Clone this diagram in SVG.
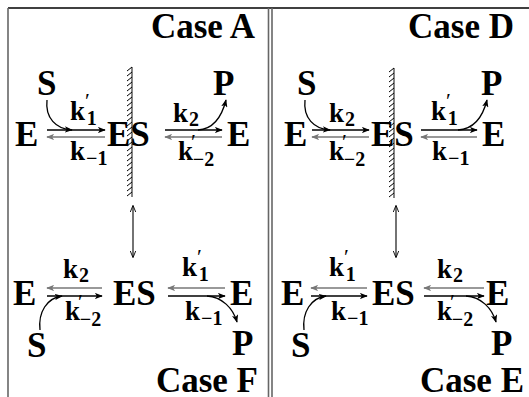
<svg xmlns="http://www.w3.org/2000/svg" xmlns:xlink="http://www.w3.org/1999/xlink" width="529" height="397" viewBox="0 0 529 397" font-family="'Liberation Serif', 'DejaVu Serif', serif">
<style>
text{font-family:"Liberation Serif","Tinos","Times New Roman","DejaVu Serif",serif;font-weight:bold;fill:#000;font-size:27px}
.t{font-size:35px}
.k{font-size:27px}
.s{font-size:20px}
.p{font-size:22px;font-weight:normal}
.fa{stroke:#000;stroke-width:1.3;fill:none;marker-end:url(#ah)}
.ga{stroke:#777;stroke-width:1.4;fill:none;marker-end:url(#ahg)}
.da{stroke:#000;stroke-width:1.1;fill:none;marker-end:url(#oa);marker-start:url(#oa)}
.frame{stroke:#666;stroke-width:1.6;fill:none}
</style>
<defs>
<marker id="ah" viewBox="0 0 10 8" refX="9" refY="4" markerWidth="8" markerHeight="6.4" markerUnits="userSpaceOnUse" orient="auto"><path d="M0,0L10,4L0,8L2.5,4z" fill="#000"/></marker>
<marker id="ahg" viewBox="0 0 10 8" refX="9" refY="4" markerWidth="8" markerHeight="6.4" markerUnits="userSpaceOnUse" orient="auto"><path d="M0,0L10,4L0,8L2.5,4z" fill="#777"/></marker>
<marker id="oa" viewBox="0 0 10 8" refX="9" refY="4" markerWidth="7" markerHeight="5.6" markerUnits="userSpaceOnUse" orient="auto-start-reverse"><path d="M0,0L10,4L0,8" fill="none" stroke="#000" stroke-width="1.3"/></marker>
<g id="wall">
<line x1="0" y1="0" x2="0" y2="130" stroke="#666" stroke-width="1.6"/>
<path d="M-5,4L0,0M-5,9L0,5M-5,14L0,10M-5,19L0,15M-5,24L0,20M-5,29L0,25M-5,34L0,30M-5,39L0,35M-5,44L0,40M-5,49L0,45M-5,54L0,50M-5,59L0,55M-5,64L0,60M-5,69L0,65M-5,74L0,70M-5,79L0,75M-5,84L0,80M-5,89L0,85M-5,94L0,90M-5,99L0,95M-5,104L0,100M-5,109L0,105M-5,114L0,110M-5,119L0,115M-5,124L0,120M-5,129L0,125" stroke="#000" stroke-width="1"/>
</g>
</defs>
<rect width="529" height="397" fill="#fff"/>
<g id="frame">
<line x1="8" y1="8" x2="529" y2="8" stroke="#000" stroke-width="1.6"/>
<line class="frame" x1="8" y1="8" x2="8" y2="397"/>
<line class="frame" x1="268.5" y1="8" x2="268.5" y2="397"/>
<line class="frame" x1="272" y1="8" x2="272" y2="397"/>
</g>
<g id="walls">
<use xlink:href="#wall" href="#wall" x="132" y="67"/>
<use xlink:href="#wall" href="#wall" x="394" y="68"/>
</g>

<g id="connectors">
<line class="fa" x1="47" y1="130" x2="105" y2="130"/>
<line class="ga" x1="105" y1="137" x2="47" y2="137"/>
<line class="fa" x1="165" y1="130" x2="222" y2="130"/>
<line class="ga" x1="222" y1="137" x2="165" y2="137"/>
<path class="fa" d="M47,100C45,118 56,129 72,130"/>
<path class="fa" d="M198,130C214,129 222,116 226,100"/>
<line class="fa" x1="312" y1="130" x2="369" y2="130"/>
<line class="ga" x1="369" y1="137" x2="312" y2="137"/>
<line class="fa" x1="421" y1="130" x2="477" y2="130"/>
<line class="ga" x1="477" y1="137" x2="421" y2="137"/>
<path class="fa" d="M305,100C303,118 314,129 330,130"/>
<path class="fa" d="M458,130C474,129 483,116 487,100"/>
<line class="da" x1="133" y1="206" x2="133" y2="257"/>
<line class="da" x1="396" y1="206" x2="396" y2="257"/>
<line class="ga" x1="102" y1="288" x2="47" y2="288"/>
<line class="fa" x1="47" y1="296" x2="102" y2="296"/>
<line class="ga" x1="225" y1="288" x2="168" y2="288"/>
<line class="fa" x1="168" y1="296" x2="225" y2="296"/>
<path class="fa" d="M40,330C38,312 47,298 62,296"/>
<path class="fa" d="M207,296C222,297 233,308 237,322"/>
<line class="ga" x1="367" y1="288" x2="311" y2="288"/>
<line class="fa" x1="311" y1="296" x2="367" y2="296"/>
<line class="ga" x1="484" y1="288" x2="424" y2="288"/>
<line class="fa" x1="424" y1="296" x2="484" y2="296"/>
<path class="fa" d="M304,330C302,312 311,298 326,296"/>
<path class="fa" d="M466,296C481,297 492,308 496,322"/>
</g>

<g id="caseA-label"><text class="t" x="255" y="38" text-anchor="end">Case A</text></g>
<g id="A-S"><text class="t" x="37" y="95">S</text></g>
<g id="A-P"><text class="t" x="213" y="95">P</text></g>
<g id="A-E1"><text class="t" x="15" y="146">E</text></g>
<g id="A-ES"><text class="t" x="107" y="146">ES</text></g>
<g id="A-E2"><text class="t" x="227" y="146">E</text></g>
<g id="A-k1p"><text x="70" y="120"><tspan class="k">k</tspan><tspan class="p" dy="-12">′</tspan><tspan class="s" dx="-3" dy="17">1</tspan></text></g>
<g id="A-km1"><text x="70" y="160"><tspan class="k">k</tspan><tspan class="s" dx="1" dy="5">−1</tspan></text></g>
<g id="A-k2"><text x="173" y="122"><tspan class="k">k</tspan><tspan class="s" dx="1" dy="4">2</tspan></text></g>
<g id="A-km2p"><text x="178" y="160"><tspan class="k">k</tspan><tspan class="p" dx="-2" dy="-11">′</tspan><tspan class="s" dx="-3" dy="17">−2</tspan></text></g>

<g id="caseD-label"><text class="t" x="514" y="38" text-anchor="end">Case D</text></g>
<g id="D-S"><text class="t" x="297" y="95">S</text></g>
<g id="D-P"><text class="t" x="481" y="95">P</text></g>
<g id="D-E1"><text class="t" x="284" y="146">E</text></g>
<g id="D-ES"><text class="t" x="371" y="146">ES</text></g>
<g id="D-E2"><text class="t" x="482" y="146">E</text></g>
<g id="D-k2"><text x="329" y="122"><tspan class="k">k</tspan><tspan class="s" dx="1" dy="4">2</tspan></text></g>
<g id="D-km2p"><text x="329" y="160"><tspan class="k">k</tspan><tspan class="p" dx="-2" dy="-11">′</tspan><tspan class="s" dx="-3" dy="17">−2</tspan></text></g>
<g id="D-k1p"><text x="431" y="120"><tspan class="k">k</tspan><tspan class="p" dy="-12">′</tspan><tspan class="s" dx="-3" dy="17">1</tspan></text></g>
<g id="D-km1"><text x="432" y="160"><tspan class="k">k</tspan><tspan class="s" dx="1" dy="5">−1</tspan></text></g>

<g id="caseF-label"><text class="t" x="258" y="392" text-anchor="end">Case F</text></g>
<g id="F-E1"><text class="t" x="13" y="305">E</text></g>
<g id="F-ES"><text class="t" x="113" y="305">ES</text></g>
<g id="F-E2"><text class="t" x="230" y="305">E</text></g>
<g id="F-S"><text class="t" x="27" y="357">S</text></g>
<g id="F-P"><text class="t" x="232" y="355">P</text></g>
<g id="F-k2"><text x="63" y="278"><tspan class="k">k</tspan><tspan class="s" dx="1" dy="4">2</tspan></text></g>
<g id="F-km2p"><text x="65" y="320"><tspan class="k">k</tspan><tspan class="p" dx="-2" dy="-11">′</tspan><tspan class="s" dx="-3" dy="17">−2</tspan></text></g>
<g id="F-k1p"><text x="182" y="276"><tspan class="k">k</tspan><tspan class="p" dy="-12">′</tspan><tspan class="s" dx="-3" dy="17">1</tspan></text></g>
<g id="F-km1"><text x="185" y="320"><tspan class="k">k</tspan><tspan class="s" dx="1" dy="5">−1</tspan></text></g>

<g id="caseE-label"><text class="t" x="524" y="392" text-anchor="end">Case E</text></g>
<g id="E-E1"><text class="t" x="281" y="305">E</text></g>
<g id="E-ES"><text class="t" x="372" y="305">ES</text></g>
<g id="E-E2"><text class="t" x="486" y="305">E</text></g>
<g id="E-S"><text class="t" x="291" y="357">S</text></g>
<g id="E-P"><text class="t" x="491" y="355">P</text></g>
<g id="E-k1p"><text x="329" y="276"><tspan class="k">k</tspan><tspan class="p" dy="-12">′</tspan><tspan class="s" dx="-3" dy="17">1</tspan></text></g>
<g id="E-km1"><text x="331" y="320"><tspan class="k">k</tspan><tspan class="s" dx="1" dy="5">−1</tspan></text></g>
<g id="E-k2"><text x="437" y="278"><tspan class="k">k</tspan><tspan class="s" dx="1" dy="4">2</tspan></text></g>
<g id="E-km2p"><text x="437" y="320"><tspan class="k">k</tspan><tspan class="p" dx="-2" dy="-11">′</tspan><tspan class="s" dx="-3" dy="17">−2</tspan></text></g>
</svg>
